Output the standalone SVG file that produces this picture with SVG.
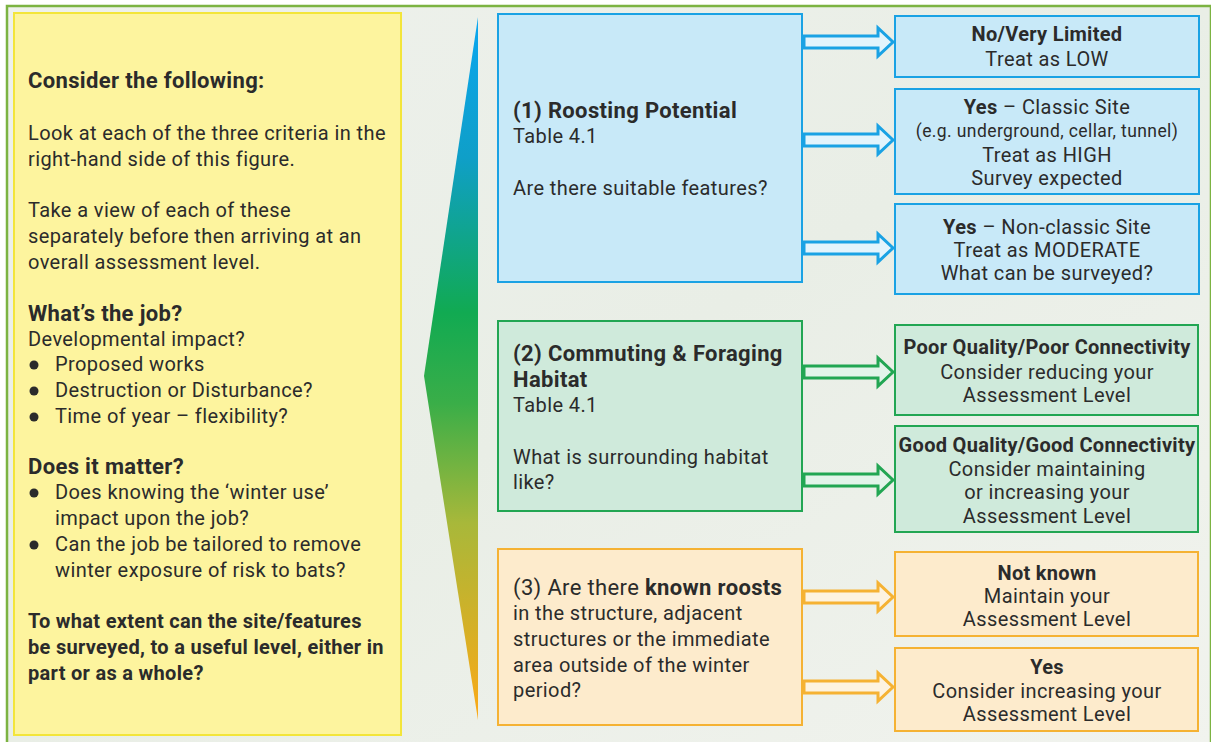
<svg xmlns="http://www.w3.org/2000/svg" width="1211" height="742" viewBox="0 0 1211 742">
<defs>
<linearGradient id="pg" x1="0" y1="17" x2="0" y2="720" gradientUnits="userSpaceOnUse">
<stop offset="0" stop-color="#0aa6f0"/>
<stop offset="0.2" stop-color="#0f9fc8"/>
<stop offset="0.42" stop-color="#11aa52"/>
<stop offset="0.55" stop-color="#3aae48"/>
<stop offset="0.72" stop-color="#a8b83a"/>
<stop offset="1" stop-color="#fca916"/>
</linearGradient>
<linearGradient id="bg" x1="0" y1="0" x2="1" y2="1">
<stop offset="0" stop-color="#eef1ec"/>
<stop offset="0.5" stop-color="#e9eee6"/>
<stop offset="1" stop-color="#f1f3ee"/>
</linearGradient>
</defs>
<style>
text{font-family:Roboto,"Liberation Sans",sans-serif;fill:#2b2b2b;}
.t{font-size:20px;letter-spacing:0.4px;}
.b{font-weight:bold;letter-spacing:0.3px;}
.h{font-size:22px;font-weight:bold;letter-spacing:0.35px;}
.hr{font-size:22px;letter-spacing:0.35px;}
.c{text-anchor:middle;font-size:20px;letter-spacing:0.4px;}
.cb{text-anchor:middle;font-size:20px;font-weight:bold;letter-spacing:0.3px;}
.s{text-anchor:middle;font-size:17.5px;letter-spacing:0.4px;}
.blue{fill:#c8e9f8;stroke:#1aa2e4;stroke-width:2;}
.green{fill:#cfeadb;stroke:#22a653;stroke-width:2;}
.orange{fill:#fdebcc;stroke:#f5b233;stroke-width:2;}
.ab{fill:#e3f4fc;stroke:#1aa2e4;stroke-width:3;stroke-linejoin:miter;}
.ag{fill:#e3f4ea;stroke:#22a653;stroke-width:3;stroke-linejoin:miter;}
.ao{fill:#fdf3e0;stroke:#f5b233;stroke-width:3;stroke-linejoin:miter;}
</style>
<rect x="0" y="0" width="1211" height="742" fill="#ffffff"/>
<rect x="7" y="6" width="1204" height="740" fill="url(#bg)" stroke="#7cb342" stroke-width="2.5"/>

<g id="left-panel">
<rect x="14" y="13" width="387" height="722" fill="#fdf49e" stroke="#f3e53a" stroke-width="2"/>
<text class="h" x="28" y="88">Consider the following:</text>
<text class="t" x="28" y="140">Look at each of the three criteria in the</text>
<text class="t" x="28" y="166">right-hand side of this figure.</text>
<text class="t" x="28" y="217">Take a view of each of these</text>
<text class="t" x="28" y="243">separately before then arriving at an</text>
<text class="t" x="28" y="269">overall assessment level.</text>
<text class="h" x="28" y="321">What’s the job?</text>
<text class="t" x="28" y="346">Developmental impact?</text>
<circle cx="34" cy="365" r="4.5" fill="#2b2b2b"/>
<text class="t" x="55" y="371">Proposed works</text>
<circle cx="34" cy="391" r="4.5" fill="#2b2b2b"/>
<text class="t" x="55" y="397">Destruction or Disturbance?</text>
<circle cx="34" cy="417" r="4.5" fill="#2b2b2b"/>
<text class="t" x="55" y="423">Time of year – flexibility?</text>
<text class="h" x="28" y="474">Does it matter?</text>
<circle cx="34" cy="493" r="4.5" fill="#2b2b2b"/>
<text class="t" x="55" y="499">Does knowing the ‘winter use’</text>
<text class="t" x="55" y="525">impact upon the job?</text>
<circle cx="34" cy="545" r="4.5" fill="#2b2b2b"/>
<text class="t" x="55" y="551">Can the job be tailored to remove</text>
<text class="t" x="55" y="577">winter exposure of risk to bats?</text>
<text class="t b" x="28" y="628">To what extent can the site/features</text>
<text class="t b" x="28" y="654">be surveyed, to a useful level, either in</text>
<text class="t b" x="28" y="680">part or as a whole?</text>
</g>

<g id="pointer">
<polygon points="478,17 478,720 424,376" fill="url(#pg)"/>
</g>

<g id="criterion-1">
<rect class="blue" x="498" y="14" width="304" height="268"/>
<text class="h" x="513" y="118">(1) Roosting Potential</text>
<text class="t" x="513" y="143">Table 4.1</text>
<text class="t" x="513" y="195">Are there suitable features?</text>
</g>
<g id="criterion-2">
<rect class="green" x="498" y="321" width="304" height="190"/>
<text class="h" x="513" y="361">(2) Commuting &amp; Foraging</text>
<text class="h" x="513" y="387">Habitat</text>
<text class="t" x="513" y="412">Table 4.1</text>
<text class="t" x="513" y="464">What is surrounding habitat</text>
<text class="t" x="513" y="489">like?</text>
</g>
<g id="criterion-3">
<rect class="orange" x="498" y="549" width="304" height="176"/>
<text class="hr" x="513" y="595">(3) Are there <tspan font-weight="bold">known roosts</tspan></text>
<text class="t" x="513" y="620">in the structure, adjacent</text>
<text class="t" x="513" y="646">structures or the immediate</text>
<text class="t" x="513" y="672">area outside of the winter</text>
<text class="t" x="513" y="697">period?</text>
</g>

<g id="connectors">
<path class="ab" d="M804,36 H878 V28 L893,42 L878,56 V48 H804 Z"/>
<path class="ab" d="M804,134 H878 V126 L893,140 L878,154 V146 H804 Z"/>
<path class="ab" d="M804,242 H878 V234 L893,248 L878,262 V254 H804 Z"/>
<path class="ag" d="M804,366 H878 V358 L893,372 L878,386 V378 H804 Z"/>
<path class="ag" d="M804,474 H878 V466 L893,480 L878,494 V486 H804 Z"/>
<path class="ao" d="M804,591 H878 V583 L893,597 L878,611 V603 H804 Z"/>
<path class="ao" d="M804,681 H878 V673 L893,687 L878,701 V693 H804 Z"/>
</g>

<g id="r1">
<rect class="blue" x="895" y="16" width="304" height="61"/>
<text class="cb" x="1047" y="41">No/Very Limited</text>
<text class="c" x="1047" y="66">Treat as LOW</text>
</g>
<g id="r2">
<rect class="blue" x="895" y="89" width="304" height="105"/>
<text class="c" x="1047" y="114"><tspan font-weight="bold">Yes</tspan> – Classic Site</text>
<text class="s" x="1047" y="137">(e.g. underground, cellar, tunnel)</text>
<text class="c" x="1047" y="162">Treat as HIGH</text>
<text class="c" x="1047" y="185">Survey expected</text>
</g>
<g id="r3">
<rect class="blue" x="895" y="204" width="304" height="90"/>
<text class="c" x="1047" y="234"><tspan font-weight="bold">Yes</tspan> – Non-classic Site</text>
<text class="c" x="1047" y="257">Treat as MODERATE</text>
<text class="c" x="1047" y="280">What can be surveyed?</text>
</g>
<g id="r4">
<rect class="green" x="895" y="325" width="303" height="90"/>
<text class="cb" x="1047" y="354">Poor Quality/Poor Connectivity</text>
<text class="c" x="1047" y="379">Consider reducing your</text>
<text class="c" x="1047" y="402">Assessment Level</text>
</g>
<g id="r5">
<rect class="green" x="895" y="426" width="303" height="106"/>
<text class="cb" x="1047" y="452">Good Quality/Good Connectivity</text>
<text class="c" x="1047" y="476">Consider maintaining</text>
<text class="c" x="1047" y="499">or increasing your</text>
<text class="c" x="1047" y="523">Assessment Level</text>
</g>
<g id="r6">
<rect class="orange" x="895" y="552" width="303" height="84"/>
<text class="cb" x="1047" y="580">Not known</text>
<text class="c" x="1047" y="603">Maintain your</text>
<text class="c" x="1047" y="626">Assessment Level</text>
</g>
<g id="r7">
<rect class="orange" x="895" y="648" width="303" height="83"/>
<text class="cb" x="1047" y="674">Yes</text>
<text class="c" x="1047" y="698">Consider increasing your</text>
<text class="c" x="1047" y="721">Assessment Level</text>
</g>
</svg>
